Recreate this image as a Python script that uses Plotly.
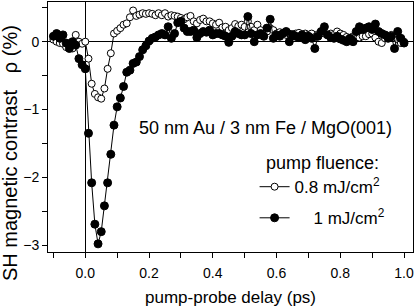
import numpy as np
import plotly.graph_objects as go

# pump-probe delay grid (ps), 0.01 ps steps from -0.10 to 1.00
delay = np.round(np.arange(-0.10, 1.0001, 0.01), 2)

# 0.8 mJ/cm2 (open circles), one row per 0.1 ps
rho_08 = [
    0.03, 0.00, -0.02, -0.03, -0.08, -0.03, -0.10, 0.10, 0.00, -0.03,
    0.00, -0.25, -0.62, -0.77, -0.82, -0.84, -0.69, -0.40, -0.17, 0.12,
    0.16, 0.20, 0.25, 0.27, 0.36, 0.46, 0.38, 0.40, 0.42, 0.41,
    0.42, 0.41, 0.39, 0.42, 0.39, 0.42, 0.37, 0.39, 0.38, 0.37,
    0.35, 0.33, 0.36, 0.38, 0.30, 0.27, 0.32, 0.34, 0.30, 0.30,
    0.27, 0.25, 0.28, 0.21, 0.22, 0.17, 0.20, 0.26, 0.23, 0.25,
    0.22, 0.30, 0.22, 0.17, 0.25, 0.17, 0.10, 0.15, 0.20, 0.17,
    0.12, 0.14, 0.13, 0.10, 0.12, 0.11, 0.12, 0.13, 0.11, 0.12,
    0.10, 0.12, 0.07, 0.11, 0.15, 0.12, 0.10, 0.12, 0.10, 0.15,
    0.12, 0.10, 0.07, 0.05, 0.08, 0.10, 0.06, 0.08, 0.08, 0.11,
    0.12, 0.06, 0.00, -0.02, 0.05, 0.08, 0.10, 0.06, 0.03, -0.02,
    0.00,
]

# 1 mJ/cm2 (filled circles)
rho_10 = [
    0.08, 0.12, 0.05, 0.10, -0.02, -0.10, 0.00, -0.05, -0.25, -0.34,
    -0.40, -1.35, -2.08, -2.69, -2.98, -2.80, -2.42, -2.08, -1.66, -1.23,
    -0.96, -0.83, -0.66, -0.45, -0.42, -0.32, -0.30, -0.22, -0.12, -0.06,
    0.01, 0.05, 0.07, 0.10, 0.12, 0.10, 0.22, 0.05, 0.12, 0.28,
    0.30, 0.20, 0.15, 0.15, 0.17, 0.06, 0.12, 0.15, 0.14, 0.17,
    0.10, 0.12, 0.12, 0.10, 0.08, -0.01, 0.08, 0.15, 0.12, 0.10,
    0.10, 0.37, 0.12, 0.00, 0.10, 0.12, 0.08, 0.20, 0.33, 0.05,
    0.10, 0.08, 0.12, 0.15, 0.00, 0.10, 0.08, 0.06, 0.10, 0.03,
    0.08, 0.05, -0.10, 0.08, 0.15, 0.22, 0.10, 0.06, 0.05, 0.08,
    0.04, 0.02, 0.00, 0.05, 0.00, 0.15, 0.22, 0.18, 0.20, 0.22,
    0.18, 0.26, 0.15, 0.12, 0.10, 0.05, 0.08, -0.10, 0.15, 0.05,
    -0.02,
]

FONT = "Liberation Sans, Arial, sans-serif"

fig = go.Figure()
fig.add_trace(go.Scatter(
    x=delay, y=rho_08, mode="lines+markers",
    name="0.8 mJ/cm<sup>2</sup>", legendgroup="a",
    line=dict(color="black", width=1),
    marker=dict(symbol="circle", size=7, color="white",
                line=dict(color="black", width=1)),
))
fig.add_trace(go.Scatter(
    x=delay, y=rho_10, mode="lines+markers",
    name="\u00a0\u00a0\u00a0\u00a01 mJ/cm<sup>2</sup>", legendgroup="b",
    line=dict(color="black", width=1),
    marker=dict(symbol="circle", size=8, color="black",
                line=dict(color="black", width=1)),
))

fig.add_annotation(
    text="50 nm Au / 3 nm Fe / MgO(001)",
    x=0.163, y=-1.27, xref="x", yref="y",
    xanchor="left", yanchor="middle", showarrow=False,
    font=dict(size=18, color="black"),
)
# y title as a rotated annotation (sits below the plot centre, as in the original)
fig.add_annotation(
    text="SH magnetic contrast \u00a0\u00a0\u03c1 (%)",
    x=-0.104, y=0.396, xref="paper", yref="paper",
    xanchor="center", yanchor="middle", textangle=-90, showarrow=False,
    font=dict(size=20, color="black"),
)

axis_common = dict(
    showgrid=False, showline=True, linecolor="black", linewidth=1,
    mirror=True, ticks="outside", ticklen=5, tickcolor="black",
    zeroline=True, zerolinecolor="black", zerolinewidth=1,
    tickfont=dict(size=14, color="black"), automargin=False,
)

fig.update_xaxes(
    **axis_common,
    range=[-0.117, 1.028],
    tick0=0, dtick=0.2, tickformat=".1f", ticklabelstandoff=3,
    minor=dict(dtick=0.1, ticks="outside", ticklen=5, tickcolor="black"),
    title=dict(text="pump-probe delay (ps)", font=dict(size=17, color="black"),
               standoff=11),
)
fig.update_yaxes(
    **axis_common,
    range=[-3.1, 0.585],
    tick0=0, dtick=1,
    minor=dict(dtick=0.5, ticks="outside", ticklen=5, tickcolor="black"),
)

fig.update_layout(
    width=415, height=307,
    margin=dict(l=48, r=2, t=2, b=55),
    paper_bgcolor="white", plot_bgcolor="white",
    font=dict(family=FONT, color="black"),
    showlegend=True,
    legend=dict(
        title=dict(text="pump fluence:", font=dict(size=18), side="top center"),
        x=0.566, y=0.425, xanchor="left", yanchor="top",
        bgcolor="rgba(0,0,0,0)", font=dict(size=17),
        itemwidth=30, tracegroupgap=6,
    ),
)

fig.write_html("out.html", config={"displayModeBar": False},
               post_script="document.body.style.margin='0';")
